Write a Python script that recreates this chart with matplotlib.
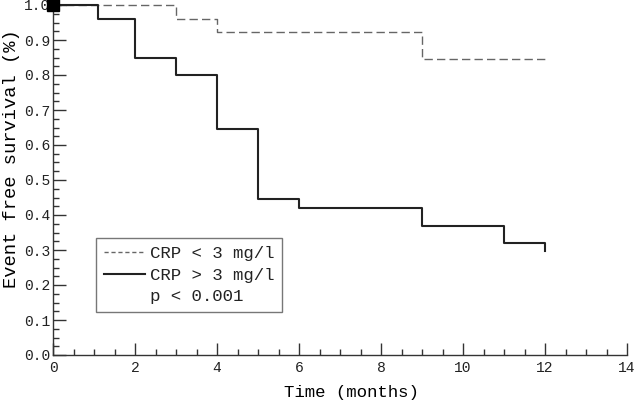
import matplotlib
matplotlib.use("Agg")
import matplotlib.pyplot as plt
from matplotlib.ticker import MultipleLocator, FormatStrFormatter
from matplotlib.lines import Line2D

# Kaplan-Meier step data (time in months, survival fraction)
low_t = [0, 3, 4, 9, 12]
low_s = [1.0, 0.96, 0.922, 0.845, 0.845]

high_t = [0, 1.1, 2, 3, 4, 5, 6, 9, 11, 12, 12]
high_s = [1.0, 0.96, 0.85, 0.80, 0.645, 0.445, 0.42, 0.37, 0.32, 0.32, 0.297]

legend_labels = ["CRP < 3 mg/l", "CRP > 3 mg/l", "p < 0.001"]

font = "Liberation Mono"
plt.rcParams['font.family'] = [font, 'DejaVu Sans']
plt.rcParams['text.color'] = '#222222'

fig = plt.figure(figsize=(6.4, 4.0), dpi=100)
ax = fig.add_axes([53/640, 45/400, (627-53)/640, 350/400])

ax.step(low_t, low_s, where='post', color='#666666', lw=1.0,
        linestyle=(0, (6, 3)), clip_on=False)
ax.step(high_t, high_s, where='post', color='#222222', lw=1.5, clip_on=False)
ax.plot([0], [1.0], marker='s', color='black', markersize=9, clip_on=False, zorder=5)

ax.set_xlim(0, 14)
ax.set_ylim(0, 1.0)
ax.xaxis.set_major_locator(MultipleLocator(2))
ax.xaxis.set_minor_locator(MultipleLocator(0.5))
ax.yaxis.set_major_locator(MultipleLocator(0.1))
ax.yaxis.set_minor_locator(MultipleLocator(0.025))
ax.yaxis.set_major_formatter(FormatStrFormatter('%.1f'))

for s in ['top', 'right']:
    ax.spines[s].set_visible(False)
for s in ['left', 'bottom']:
    ax.spines[s].set_color('#333333')
    ax.spines[s].set_linewidth(1.0)

ax.tick_params(which='major', direction='in', length=9, width=1.0, color='#333333',
               labelsize=10.5, labelcolor='#222222')
ax.tick_params(which='minor', direction='in', length=4.5, width=1.0, color='#333333')
ax.tick_params(axis='y', which='major', pad=2)
ax.tick_params(axis='x', which='major', pad=4)

ax.set_xlabel("Time (months)", fontsize=12.5, labelpad=4)
ax.xaxis.set_label_coords(0.52, -0.085)
ax.set_ylabel("Event free survival (%)", fontsize=13.5, va='center')
ax.yaxis.set_label_coords(-0.072, 0.56)

handles = [Line2D([], [], color='#666666', lw=1.0, linestyle=(0, (3, 2))),
           Line2D([], [], color='#222222', lw=1.5),
           Line2D([], [], color='none')]
leg = ax.legend(handles, legend_labels, loc='lower left',
                bbox_to_anchor=((96-53)/574, (355-311.7)/350, (282-96)/574, 70/350),
                mode='expand', fontsize=12.5, frameon=True, fancybox=False,
                handlelength=2.4, handletextpad=0.25, borderpad=0.45,
                labelspacing=0.35, borderaxespad=0)
leg.get_frame().set_edgecolor('#555555')
leg.get_frame().set_linewidth(1.0)

fig.savefig("out.png", dpi=100)
